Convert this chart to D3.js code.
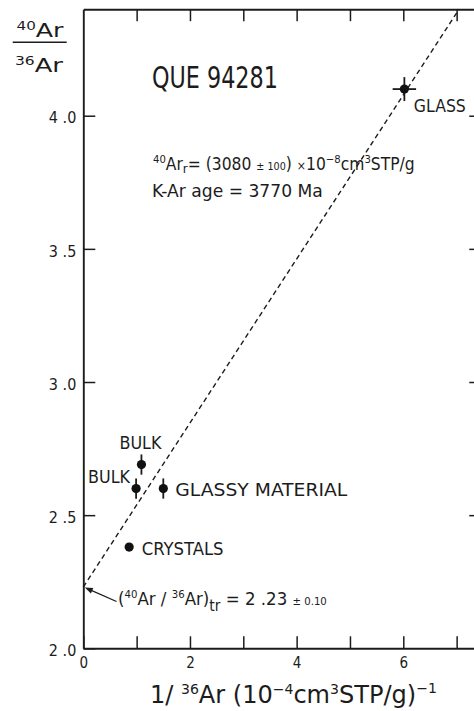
<!DOCTYPE html>
<html>
<head>
<meta charset="utf-8">
<script src="https://cdn.jsdelivr.net/npm/d3@7"></script>
<style>
  html, body { margin: 0; padding: 0; background: #fff; overflow: hidden; }
  svg { display: block; }
  text { font-family: "DejaVu Sans Condensed", "DejaVu Sans", sans-serif; fill: #1c1c1c; }
</style>
</head>
<body>
<script>
// QUE 94281 argon isochron: 40Ar/36Ar against 1/36Ar
const samples   = ["GLASS", "BULK", "BULK", "GLASSY MATERIAL", "CRYSTALS"];
const invAr36   = [6.02, 1.09, 0.99, 1.50, 0.86];     // 1/36Ar (10^-4 cm3STP/g)^-1
const ratio     = [4.10, 2.69, 2.60, 2.60, 2.38];     // 40Ar/36Ar
const ratioErr  = [0.045, 0.038, 0.038, 0.038, 0];
const invErr    = [0.22, 0, 0, 0, 0];

// isochron: trapped intercept and radiogenic 40Ar (3080e-8 cm3STP/g -> 0.308 per 1e-4 unit)
const intercept = 2.23;
const slope = 0.308;

const xDomain = [0, 7.5];
const yDomain = [2.0, 4.4];
const xTicks = [0, 1, 2, 3, 4, 5, 6, 7];
const xLabelled = [0, 2, 4, 6];
const yTicks = [2.0, 2.5, 3.0, 3.5, 4.0];

const W = 474, H = 711;
const svg = d3.select("body").append("svg").attr("width", W).attr("height", H);

const x = d3.scaleLinear().domain(xDomain).range([83.3, 483.3]);
const y = d3.scaleLinear().domain(yDomain).range([648.3, 9.2]);

const ink = "#1c1c1c";

// ---- axes (ticks point into the frame) ----
function styleAxis(g) {
  g.selectAll("path.domain").attr("stroke", ink).attr("stroke-width", 1.9);
  g.selectAll(".tick line").attr("stroke", ink).attr("stroke-width", 1.5);
  g.selectAll(".tick text")
    .attr("font-family", "'DejaVu Sans Condensed', 'DejaVu Sans', sans-serif")
    .attr("fill", ink);
}

svg.append("g")
  .attr("transform", `translate(0,${y(yDomain[0])})`)
  .call(d3.axisBottom(x).tickValues(xTicks).tickSize(-12).tickSizeOuter(0).tickPadding(9)
    .tickFormat(d => xLabelled.includes(d) ? String(d) : ""))
  .call(styleAxis)
  .call(g => g.selectAll(".tick text").attr("font-size", 15));

svg.append("g")
  .attr("transform", `translate(${x(0)},0)`)
  .call(d3.axisLeft(y).tickValues(yTicks).tickSize(-12).tickSizeOuter(0).tickPadding(7)
    .tickFormat(d => d3.format(".1f")(d).replace(".", " .")))
  .call(styleAxis)
  .call(g => g.selectAll(".tick text").attr("font-size", 16).attr("dy", "0.45em"));

svg.append("g")
  .attr("transform", `translate(0,${y(yDomain[1])})`)
  .call(d3.axisTop(x).tickValues(xTicks.filter(d => d > 0)).tickSize(-12).tickSizeOuter(0).tickFormat(""))
  .call(styleAxis);

// right frame lies just past the page edge; only its inward ticks show
svg.append("g")
  .attr("transform", `translate(${x(xDomain[1])},0)`)
  .call(d3.axisRight(y).tickValues(yTicks.filter(d => d > 2)).tickSize(-14).tickSizeOuter(0).tickFormat(""))
  .call(styleAxis)
  .call(g => g.select(".domain").remove());

// ---- isochron line ----
const xTop = (yDomain[1] - intercept) / slope;
svg.append("path")
  .datum([0, xTop])
  .attr("d", d3.line().x(d => x(d)).y(d => y(intercept + slope * d)))
  .attr("fill", "none")
  .attr("stroke", ink)
  .attr("stroke-width", 1.4)
  .attr("stroke-dasharray", "5,3.5");

// ---- data points with error bars ----
const pts = samples.map((s, i) => ({ s, vx: invAr36[i], vy: ratio[i], ey: ratioErr[i], ex: invErr[i] }));
const pg = svg.append("g");
pts.forEach(p => {
  if (p.ey > 0) pg.append("line")
    .attr("x1", x(p.vx)).attr("x2", x(p.vx))
    .attr("y1", y(p.vy - p.ey)).attr("y2", y(p.vy + p.ey))
    .attr("stroke", ink).attr("stroke-width", 1.8);
  if (p.ex > 0) pg.append("line")
    .attr("x1", x(p.vx - p.ex)).attr("x2", x(p.vx + p.ex))
    .attr("y1", y(p.vy)).attr("y2", y(p.vy))
    .attr("stroke", ink).attr("stroke-width", 1.8);
  pg.append("circle").attr("cx", x(p.vx)).attr("cy", y(p.vy)).attr("r", 4.6).attr("fill", "#111");
});

// ---- rich text helper: parts [{t, fs, dy}], optionally squeezed to a width ----
function rich(x0, y0, parts, width) {
  const g = svg.append("g").attr("transform", `translate(${x0},${y0})`);
  const t = g.append("text").attr("x", 0).attr("y", 0);
  parts.forEach(p => {
    const ts = t.append("tspan").text(p.t).attr("font-size", p.fs);
    if (p.dy) ts.attr("dy", p.dy);
  });
  if (width) {
    const len = t.node().getComputedTextLength();
    if (len > 0) g.attr("transform", `translate(${x0},${y0}) scale(${width / len},1)`);
  }
  return g;
}

// point labels, placed relative to their points
const labelOffsets = [
  { dx: 9.5, dy: 23, w: 52 },
  { dx: -22, dy: -16, w: 42 },
  { dx: -48, dy: -6, w: 42 },
  { dx: 12, dy: 7, w: 172 },
  { dx: 12.5, dy: 7.5, w: 82 }
];
pts.forEach((p, i) => {
  const o = labelOffsets[i];
  rich(x(p.vx) + o.dx, y(p.vy) + o.dy, [{ t: p.s, fs: 17.5 }], o.w);
});

// sample name
rich(152, 88, [{ t: "QUE 94281", fs: 30 }], 126);

// radiogenic argon and age
rich(153, 170, [
  { t: "40", fs: 11, dy: -7 },
  { t: "Ar", fs: 17, dy: 7 },
  { t: "r", fs: 13, dy: 3 },
  { t: "= (3080 ", fs: 17, dy: -3 },
  { t: "± 100", fs: 10.5 },
  { t: ") ", fs: 17 },
  { t: "×", fs: 12 },
  { t: "10", fs: 17 },
  { t: "−8", fs: 11, dy: -7 },
  { t: "cm", fs: 17, dy: 7 },
  { t: "3", fs: 11, dy: -7 },
  { t: "STP/g", fs: 17, dy: 7 }
], 262);
rich(152, 196.5, [{ t: "K-Ar age = 3770 Ma", fs: 18 }], 171);

// trapped component label with arrow to the intercept
rich(118, 605, [
  { t: "(", fs: 18 },
  { t: "40", fs: 11, dy: -7 },
  { t: "Ar / ", fs: 18, dy: 7 },
  { t: "36", fs: 11, dy: -7 },
  { t: "Ar)", fs: 18, dy: 7 },
  { t: "tr", fs: 15, dy: 6 },
  { t: " = 2 .23 ", fs: 18, dy: -6 },
  { t: "± 0.10", fs: 11 }
], 209);

const ax = x(0) + 1.5, ay = y(intercept) + 0.5;
const tx = 116.5, ty = 601.5;
const ang = Math.atan2(ty - ay, tx - ax);
svg.append("line")
  .attr("x1", tx).attr("y1", ty).attr("x2", ax + 4 * Math.cos(ang)).attr("y2", ay + 4 * Math.sin(ang))
  .attr("stroke", ink).attr("stroke-width", 1.3);
const hl = 8, hw = 3;
const bx = ax + hl * Math.cos(ang), by = ay + hl * Math.sin(ang);
svg.append("path")
  .attr("d", `M${ax},${ay} L${bx - hw * Math.sin(ang)},${by + hw * Math.cos(ang)} L${bx + hw * Math.sin(ang)},${by - hw * Math.cos(ang)} Z`)
  .attr("fill", ink);

// y-axis title as a stacked ratio
rich(16.5, 36.7, [{ t: "40", fs: 12, dy: -7 }, { t: "Ar", fs: 20, dy: 7 }], 47);
svg.append("line").attr("x1", 12.7).attr("x2", 66.7).attr("y1", 42.3).attr("y2", 42.3)
  .attr("stroke", ink).attr("stroke-width", 1.6);
rich(15, 71.7, [{ t: "36", fs: 12, dy: -7 }, { t: "Ar", fs: 20, dy: 7 }], 48);

// x-axis title
rich(150, 703, [
  { t: "1/ ", fs: 24 },
  { t: "36", fs: 14, dy: -9 },
  { t: "Ar (10", fs: 24, dy: 9 },
  { t: "−4", fs: 14, dy: -9 },
  { t: "cm", fs: 24, dy: 9 },
  { t: "3", fs: 14, dy: -9 },
  { t: "STP/g)", fs: 24, dy: 9 },
  { t: "−1", fs: 14, dy: -10 }
], 287);
</script>
</body>
</html>
